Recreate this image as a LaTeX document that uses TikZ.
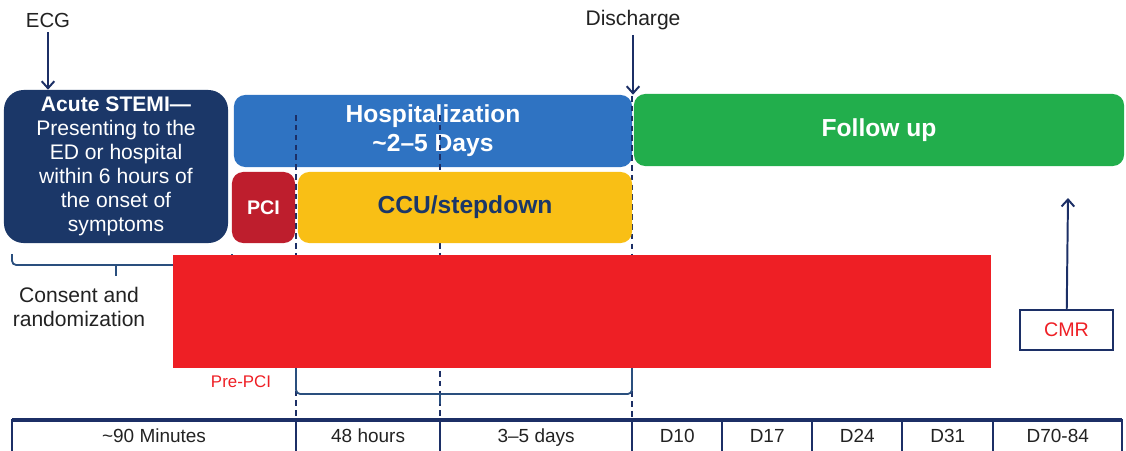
\documentclass[tikz,border=0pt]{standalone}
\usepackage{fontspec}
\setmainfont{Liberation Sans}
\usepackage{tikz}
\usetikzlibrary{arrows.meta,positioning}
\definecolor{stemiblue}{HTML}{1B3768}
\definecolor{hospblue}{HTML}{2F73C2}
\definecolor{followgreen}{HTML}{22AE4C}
\definecolor{pcired}{HTML}{BE1E2D}
\definecolor{ccuyellow}{HTML}{F9BF15}
\definecolor{drugred}{HTML}{EE1F25}
\definecolor{linenavy}{HTML}{1C2F66}
\definecolor{bracenavy}{HTML}{2A4F7E}
\definecolor{textgray}{HTML}{222222}

\begin{document}
\begin{tikzpicture}[x=0.025cm, y=-0.025cm, >={Straight Barb[length=5pt,width=9pt]},
  every node/.style={font=\fontsize{14.5}{17}\selectfont, text=textgray},
  phasebox/.style={rounded corners=8pt, inner sep=0pt, text=white, font=\fontsize{17.5}{20.5}\selectfont\bfseries, align=center},
  daycell/.style={draw=linenavy, line width=1.2pt, outer sep=0pt, minimum height=0.9cm, text height=1.6ex, text depth=0.45ex, font=\fontsize{13.5}{15}\selectfont},
  timemark/.style={draw=linenavy, dash pattern=on 4pt off 3pt, line width=0.8pt},
  bracket/.style={draw=bracenavy, line width=1.3pt, rounded corners=3pt}]
  \useasboundingbox (0,0) rectangle (1126,450);

  % phases
  \node[fill=stemiblue, rounded corners=14pt, inner sep=0pt, minimum width=5.6cm, minimum height=3.825cm, text=white, align=center, font=\fontsize{15}{17}\selectfont] (stemi) at (116,166.5) {\textbf{Acute STEMI—}\\Presenting to the\\ED or hospital\\within 6 hours of\\the onset of\\symptoms};
  \node[phasebox, fill=hospblue, minimum width=9.95cm, minimum height=1.8cm] (hosp) at (433,131) {Hospitalization\\\textasciitilde2--5 Days};
  \node[phasebox, fill=followgreen, minimum width=12.25cm, minimum height=1.8cm] (follow) at (879,130) {Follow up};

  \draw[timemark] (296,115) -- (296,420);
  \draw[timemark] (440,115) -- (440,420);
  \draw[timemark] (632,96) -- (632,420);

  \node[phasebox, fill=pcired, minimum width=1.575cm, minimum height=1.775cm, font=\fontsize{14}{16}\selectfont\bfseries] (pci) at (263.5,207.5) {PCI};
  \node[phasebox, fill=ccuyellow, text=stemiblue, minimum width=8.35cm, minimum height=1.775cm] (ccu) at (465,207.5) {CCU/stepdown};

  % brackets
  \draw[bracket] (12,254) -- (12,265) -- (232,265) -- (232,254);
  \draw[bracket] (116,265) -- (116,276);
  \node[align=center, font=\fontsize{15}{17.5}\selectfont] (consent) at (79,307) {Consent and\\randomization};

  \node[fill=drugred, minimum width=20.45cm, minimum height=2.825cm, inner sep=0pt] (drug) at (582,311.5) {};
  \node[text=drugred, font=\fontsize{12}{14}\selectfont] (prepci) at (241,382) {Pre-PCI};

  \draw[bracket] (296,368) -- (296,394) -- (632,394) -- (632,368);
  \draw[bracket] (440,394) -- (440,404);

  % events
  \node (ecg) at (48,20) {ECG};
  \draw[->, linenavy, line width=1.4pt] (ecg) -- (ecg |- stemi.north);
  \node[font=\fontsize{15}{17}\selectfont] (dis) at (633,20) {Discharge};
  \draw[->, linenavy, line width=1.4pt] (dis) -- (dis |- hosp.north);
  \node[draw=linenavy, line width=1pt, minimum width=2.325cm, minimum height=1cm, text=drugred, font=\fontsize{14}{16}\selectfont] (cmr) at (1066.5,330) {CMR};
  \coordinate (cmrtip) at (1068,198);
  \draw[->, linenavy, line width=1.4pt] (cmr) -- (cmrtip);

  % timeline
  \node[daycell, anchor=north west, minimum width=7.1cm] (t90) at (12,420) {\textasciitilde90 Minutes};
  \node[daycell, right=0pt of t90, minimum width=3.6cm] (t48) {48 hours};
  \node[daycell, right=0pt of t48, minimum width=4.8cm] (t35) {3--5 days};
  \node[daycell, right=0pt of t35, minimum width=2.25cm] (d10) {D10};
  \node[daycell, right=0pt of d10, minimum width=2.25cm] (d17) {D17};
  \node[daycell, right=0pt of d17, minimum width=2.25cm] (d24) {D24};
  \node[daycell, right=0pt of d24, minimum width=2.275cm] (d31) {D31};
  \node[daycell, right=0pt of d31, minimum width=3.225cm] (d70) {D70-84};
  \draw[linenavy, line width=2.5pt] (t90.north west) -- (d70.north east);
\end{tikzpicture}
\end{document}
